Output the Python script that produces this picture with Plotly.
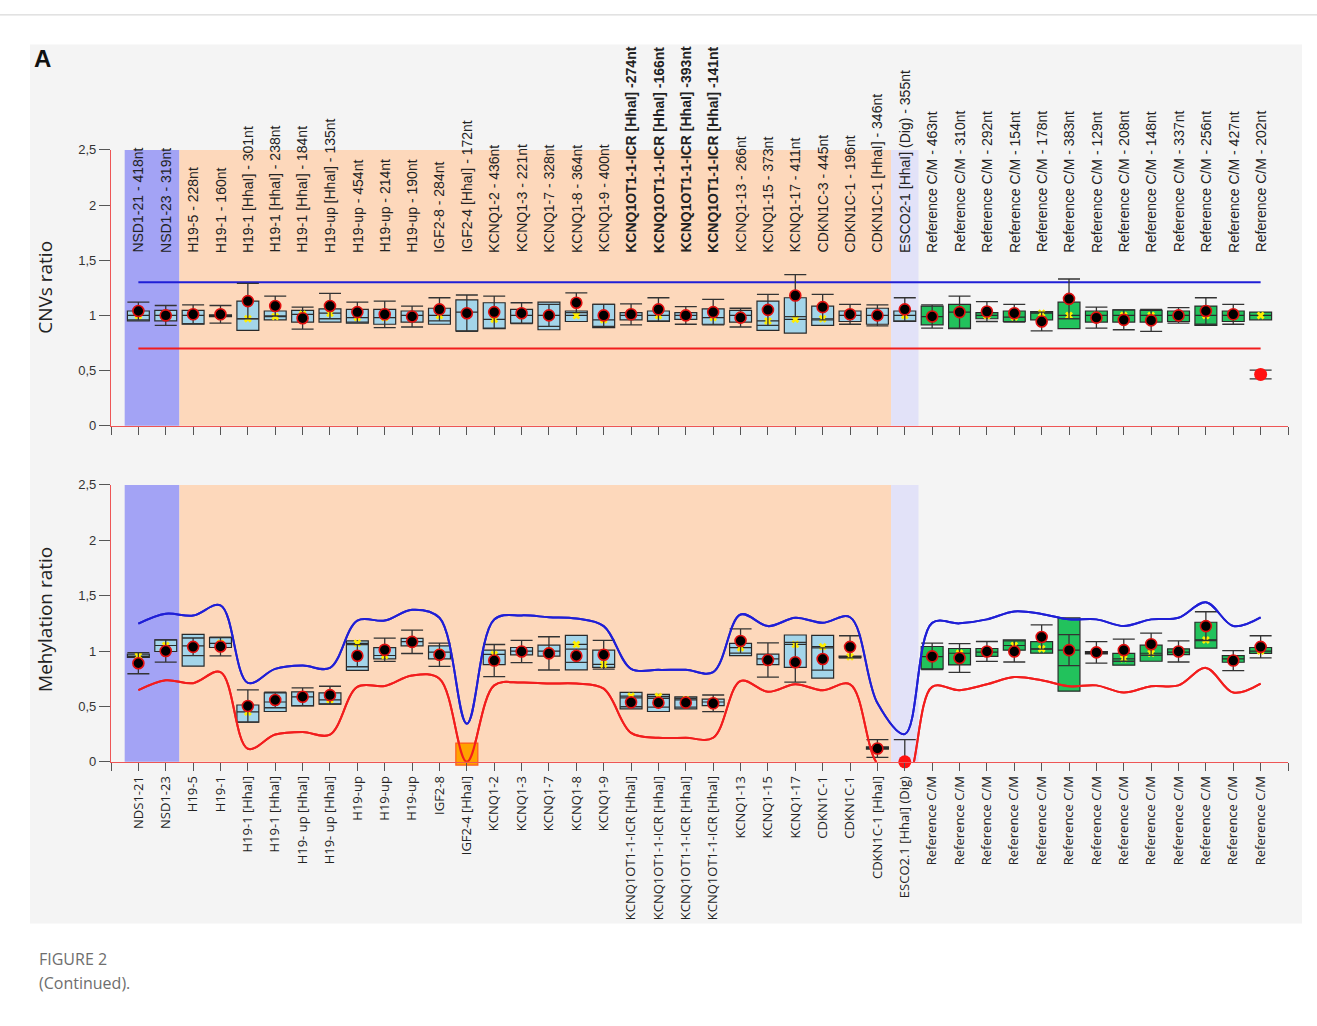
import plotly.graph_objects as go

# ---------------------------------------------------------------- data
PROBES_TOP = [
    "NSD1-21 - 418nt", "NSD1-23 - 319nt", "H19-5 - 228nt", "H19-1 - 160nt",
    "H19-1 [HhaI] - 301nt", "H19-1 [HhaI] - 238nt", "H19-1 [HhaI] - 184nt",
    "H19-up [HhaI] - 135nt", "H19-up - 454nt", "H19-up - 214nt", "H19-up - 190nt",
    "IGF2-8 - 284nt", "IGF2-4 [HhaI] - 172nt", "KCNQ1-2 - 436nt", "KCNQ1-3 - 221nt",
    "KCNQ1-7 - 328nt", "KCNQ1-8 - 364nt", "KCNQ1-9 - 400nt",
    "KCNQ1OT1-1-ICR [HhaI] -274nt", "KCNQ1OT1-1-ICR [HhaI] -166nt",
    "KCNQ1OT1-1-ICR [HhaI] -393nt", "KCNQ1OT1-1-ICR [HhaI] -141nt",
    "KCNQ1-13 - 266nt", "KCNQ1-15 - 373nt", "KCNQ1-17 - 411nt",
    "CDKN1C-3 - 445nt", "CDKN1C-1 - 196nt", "CDKN1C-1 [HhaI] - 346nt",
    "ESCO2-1 [HhaI] (Dig) - 355nt",
    "Reference C/M - 463nt", "Reference C/M - 310nt", "Reference C/M - 292nt",
    "Reference C/M - 154nt", "Reference C/M - 178nt", "Reference C/M - 383nt",
    "Reference C/M - 129nt", "Reference C/M - 208nt", "Reference C/M - 148nt",
    "Reference C/M - 337nt", "Reference C/M - 256nt", "Reference C/M - 427nt",
    "Reference C/M - 202nt",
]
BOLD_TOP = [18, 19, 20, 21]

PROBES_BOTTOM = [
    "NDS1-21", "NSD1-23", "H19-5", "H19-1", "H19-1 [HhaI]", "H19-1 [HhaI]",
    "H19- up [HhaI]", "H19- up [HhaI]", "H19-up", "H19-up", "H19-up", "IGF2-8",
    "IGF2-4 [HhaI]", "KCNQ1-2", "KCNQ1-3", "KCNQ1-7", "KCNQ1-8", "KCNQ1-9",
    "KCNQ1OT1-1-ICR [HhaI]", "KCNQ1OT1-1-ICR [HhaI]", "KCNQ1OT1-1-ICR [HhaI]",
    "KCNQ1OT1-1-ICR [HhaI]", "KCNQ1-13", "KCNQ1-15", "KCNQ1-17", "CDKN1C-1",
    "CDKN1C-1", "CDKN1C-1 [HhaI]", "ESCO2.1 [HhaI] (Dig)",
    "Reference C/M", "Reference C/M", "Reference C/M", "Reference C/M",
    "Reference C/M", "Reference C/M", "Reference C/M", "Reference C/M",
    "Reference C/M", "Reference C/M", "Reference C/M", "Reference C/M",
    "Reference C/M",
]

# probe group of every position: control, test, digestion control, reference
GROUPS = (["ctrl"] * 2 + ["test"] * 26 + ["dig"] + ["ref"] * 13)

# copy-number ratios (reference box: q1 / median / q3, sample value and its sd)
CNV_Q1 = [0.95, 0.95, 0.92, 0.99, 0.865, 0.96, 0.94, 0.94, 0.93, 0.92, 0.94, 0.92, 0.86, 0.88,
          0.93, 0.87, 0.945, 0.89, 0.96, 0.945, 0.965, 0.92, 0.94, 0.865, 0.84, 0.91, 0.945, 0.92,
          0.945, 0.915, 0.88, 0.97, 0.945, 0.96, 0.88, 0.94, 0.94, 0.94, 0.945, 0.91, 0.945, 0.96]
CNV_MED = [1.0, 1.0, 1.0, 1.0, 0.97, 0.99, 1.01, 1.02, 0.98, 0.98, 1.0, 1.0, 1.03, 0.965,
           1.0, 1.0, 1.0, 0.96, 1.0, 1.0, 1.0, 0.98, 1.0, 0.95, 0.965, 0.97, 1.0, 1.0,
           1.0, 0.99, 1.03, 1.0, 0.985, 1.02, 1.0, 1.0, 1.0, 1.0, 1.0, 1.0, 1.0, 1.0]
CNV_Q3 = [1.04, 1.045, 1.045, 1.005, 1.13, 1.04, 1.045, 1.06, 1.055, 1.055, 1.04, 1.065, 1.14, 1.115,
          1.055, 1.12, 1.04, 1.10, 1.025, 1.04, 1.025, 1.06, 1.045, 1.13, 1.16, 1.085, 1.04, 1.065,
          1.04, 1.085, 1.10, 1.025, 1.04, 1.035, 1.12, 1.04, 1.05, 1.045, 1.04, 1.085, 1.04, 1.03]
CNV_VAL = [1.04, 1.0, 1.01, 1.01, 1.13, 1.085, 0.975, 1.085, 1.03, 1.01, 0.99, 1.055, 1.02, 1.03,
           1.02, 1.0, 1.115, 1.0, 1.01, 1.055, 1.0, 1.03, 0.98, 1.05, 1.18, 1.075, 1.01, 1.0,
           1.055, 0.99, 1.03, 1.035, 1.02, 0.945, 1.15, 0.98, 0.96, 0.955, 1.0, 1.04, 1.01, 0.465]
CNV_ERR = [0.08, 0.09, 0.085, 0.08, 0.16, 0.09, 0.10, 0.115, 0.09, 0.12, 0.095, 0.105, 0.165, 0.145,
           0.095, 0.10, 0.09, 0.10, 0.095, 0.105, 0.08, 0.115, 0.085, 0.14, 0.19, 0.115, 0.09, 0.095,
           0.105, 0.105, 0.145, 0.09, 0.08, 0.085, 0.18, 0.095, 0.09, 0.10, 0.07, 0.12, 0.09, 0.04]
CNV_FLAGGED = [41]
CNV_UPPER = 1.3
CNV_LOWER = 0.7

# methylation ratios (None = no reference box drawn)
MET_Q1 = [0.943, 0.996, 0.863, 1.032, 0.359, 0.454, 0.505, 0.52, 0.825, 0.93, 1.047, 0.929, None, 0.878,
          0.966, 0.955, 0.83, 0.853, 0.478, 0.454, 0.478, 0.507, 0.958, 0.878, 0.853, 0.756, 0.94, 0.115,
          None, 0.839, 0.875, 0.952, 1.008, 0.981, 0.638, 0.975, 0.872, 0.908, 0.967, 1.026, 0.899, 0.979]
MET_MED = [0.955, 1.05, 1.047, 1.07, 0.45, 0.54, 0.587, 0.56, 1.07, 0.96, 1.085, 0.99, None, 0.97,
           1.0, 1.0, 1.06, 0.88, 0.593, 0.59, 0.56, 0.54, 1.03, 0.93, 1.06, 1.04, 0.949, 0.127,
           None, 0.95, 0.98, 0.99, 1.05, 1.02, 1.008, 0.985, 0.93, 0.98, 0.99, 1.10, 0.93, 1.0]
MET_Q3 = [0.972, 1.10, 1.15, 1.121, 0.513, 0.623, 0.632, 0.623, 1.092, 1.03, 1.115, 1.047, None, 1.008,
          1.032, 1.053, 1.142, 1.008, 0.626, 0.608, 0.587, 0.566, 1.07, 0.972, 1.145, 1.142, 0.955, 0.135,
          None, 1.041, 1.023, 1.023, 1.10, 1.085, 1.299, 0.995, 0.979, 1.053, 1.02, 1.26, 0.958, 1.032]
MET_VAL = [0.89, 1.0, 1.038, 1.041, 0.504, 0.558, 0.587, 0.602, 0.958, 1.011, 1.083, 0.967, None, 0.914,
           0.996, 0.979, 0.958, 0.967, 0.537, 0.534, 0.534, 0.528, 1.091, 0.919, 0.899, 0.928, 1.038, 0.12,
           0.0, 0.952, 0.937, 0.996, 0.996, 1.127, 1.008, 0.988, 1.008, 1.062, 0.996, 1.225, 0.914, 1.038]
MET_ERR = [0.095, 0.10, 0.08, 0.085, 0.145, 0.07, 0.08, 0.08, 0.10, 0.105, 0.105, 0.105, None, 0.145,
           0.10, 0.15, 0.06, 0.13, 0.04, 0.04, 0.04, 0.075, 0.11, 0.155, 0.18, 0.10, 0.10, 0.08,
           0.20, 0.12, 0.13, 0.09, 0.095, 0.11, 0.14, 0.097, 0.10, 0.10, 0.095, 0.13, 0.09, 0.10]
MET_FLAGGED = [28]
MET_OUT_OF_RANGE = {12: 0.07}   # probe shown with an orange square

MET_UPPER = [1.248, 1.337, 1.32, 1.412, 0.712, 0.839, 0.869, 0.848, 1.275, 1.275, 1.373, 1.30, 0.344,
             1.284, 1.322, 1.305, 1.293, 1.225, 0.839, 0.83, 0.83, 0.81, 1.33, 1.225, 1.30, 1.255,
             1.305, 0.53, 0.25, 1.254, 1.25, 1.286, 1.358, 1.335, 1.286, 1.286, 1.226, 1.286, 1.30,
             1.441, 1.226, 1.305]
MET_LOWER = [0.647, 0.736, 0.71, 0.81, 0.118, 0.246, 0.27, 0.246, 0.676, 0.685, 0.78, 0.75, 0.0,
             0.69, 0.715, 0.706, 0.706, 0.66, 0.261, 0.217, 0.217, 0.217, 0.73, 0.632, 0.70, 0.645,
             0.70, -0.02, -0.2, 0.676, 0.647, 0.70, 0.765, 0.736, 0.682, 0.69, 0.625, 0.682, 0.69,
             0.848, 0.625, 0.706]

Y_TICKS = [0, 0.5, 1, 1.5, 2, 2.5]

# ---------------------------------------------------------------- styling
W, H = 1317, 1026
REGION_COLORS = {"ctrl": "#a3a3f5", "test": "#fdd8bb", "dig": "#e2e2f8", "ref": "#d3d3d3"}
BOX_BLUE = "#a3d5ea"
BOX_GREEN = "#22c25c"
LINE_BLUE = "#1f1fd6"
LINE_RED = "#f21d1d"
AXIS_RED = "#ee5555"
TICK_GREY = "#555555"
N = len(PROBES_BOTTOM)
XS = list(range(N))


def fx(p):
    return p / W


def fy(p):
    return 1 - p / H


fig = go.Figure()


def add_panel(xa, ya, q1, med, q3, val, err, flagged, upper, lower, spline):
    # reference boxes (blue for test probes, green for reference probes)
    for color, keep in ((BOX_BLUE, lambda g: g != "ref"), (BOX_GREEN, lambda g: g == "ref")):
        idx = [i for i in XS if keep(GROUPS[i]) and q1[i] is not None]
        fig.add_trace(go.Box(
            x=idx, q1=[q1[i] for i in idx], median=[med[i] for i in idx],
            q3=[q3[i] for i in idx], lowerfence=[q1[i] for i in idx],
            upperfence=[q3[i] for i in idx], width=0.8, whiskerwidth=0,
            fillcolor=color, line=dict(color="#2a2a2a", width=1.2),
            xaxis=xa, yaxis=ya, showlegend=False, hoverinfo="skip"))
    # threshold lines
    shape = "spline" if spline else "linear"
    for ys, col in ((upper, LINE_BLUE), (lower, LINE_RED)):
        fig.add_trace(go.Scatter(
            x=XS if spline else [XS[0], XS[-1]], y=ys, mode="lines",
            line=dict(color=col, width=2, shape=shape, smoothing=1.0),
            xaxis=xa, yaxis=ya, showlegend=False, hoverinfo="skip"))
    # reference medians
    idx = [i for i in XS if med[i] is not None]
    fig.add_trace(go.Scatter(
        x=idx, y=[med[i] for i in idx], mode="markers",
        marker=dict(symbol="x", size=7, color="#ffee00", line=dict(width=0)),
        xaxis=xa, yaxis=ya, showlegend=False, hoverinfo="skip"))
    # sample error bars
    idx = [i for i in XS if val[i] is not None]
    fig.add_trace(go.Scatter(
        x=idx, y=[val[i] for i in idx], mode="markers",
        marker=dict(size=1, color="rgba(0,0,0,0)"),
        error_y=dict(type="data", array=[err[i] for i in idx], color="#333333",
                     thickness=1.3, width=11),
        xaxis=xa, yaxis=ya, showlegend=False, hoverinfo="skip"))
    # sample values
    ok = [i for i in idx if i not in flagged]
    fig.add_trace(go.Scatter(
        x=ok, y=[val[i] for i in ok], mode="markers", cliponaxis=False,
        marker=dict(size=11, color="#000000", line=dict(color="#e01010", width=1.6)),
        xaxis=xa, yaxis=ya, showlegend=False, hoverinfo="skip"))
    bad = [i for i in idx if i in flagged]
    fig.add_trace(go.Scatter(
        x=bad, y=[val[i] for i in bad], mode="markers", cliponaxis=False,
        marker=dict(size=13, color="#ff1111", line=dict(width=0)),
        xaxis=xa, yaxis=ya, showlegend=False, hoverinfo="skip"))


add_panel("x", "y", CNV_Q1, CNV_MED, CNV_Q3, CNV_VAL, CNV_ERR, CNV_FLAGGED,
          [CNV_UPPER, CNV_UPPER], [CNV_LOWER, CNV_LOWER], spline=False)
add_panel("x2", "y2", MET_Q1, MET_MED, MET_Q3, MET_VAL, MET_ERR, MET_FLAGGED,
          MET_UPPER, MET_LOWER, spline=True)

# out-of-range methylation probe
fig.add_trace(go.Scatter(
    x=list(MET_OUT_OF_RANGE.keys()), y=list(MET_OUT_OF_RANGE.values()),
    mode="markers", cliponaxis=False,
    marker=dict(symbol="square", size=22, color="#ffa200", line=dict(color="#ff5a1a", width=1.2)),
    xaxis="x2", yaxis="y2", showlegend=False, hoverinfo="skip"))
# redraw the methylation threshold curves on top of the square
for ys, col in ((MET_UPPER, LINE_BLUE), (MET_LOWER, LINE_RED)):
    fig.add_trace(go.Scatter(x=XS, y=ys, mode="lines",
                             line=dict(color=col, width=2, shape="spline", smoothing=1.0),
                             xaxis="x2", yaxis="y2", showlegend=False, hoverinfo="skip"))

# ---------------------------------------------------------------- shapes
shapes = [
    dict(type="rect", xref="paper", yref="paper", x0=fx(30), x1=fx(1302), y0=fy(930), y1=fy(38),
         fillcolor="#f4f4f4", line=dict(width=0), layer="below"),
    dict(type="line", xref="paper", yref="paper", x0=0, x1=1, y0=fy(8), y1=fy(8),
         line=dict(color="#d0d0d0", width=1), layer="below"),
]
for xr, yr in (("x", "y domain"), ("x2", "y2 domain")):
    for grp in ("ctrl", "test", "dig"):
        members = [i for i in XS if GROUPS[i] == grp]
        shapes.append(dict(type="rect", xref=xr, yref=yr, x0=min(members) - 0.5,
                           x1=max(members) + 0.5, y0=0, y1=1,
                           fillcolor=REGION_COLORS[grp], line=dict(width=0), layer="below"))

# ---------------------------------------------------------------- annotations
annotations = []
for i, lab in enumerate(PROBES_TOP):
    txt = f"<b>{lab}</b>" if i in BOLD_TOP else lab
    annotations.append(dict(x=i, y=1.55, xref="x", yref="y", text=txt, textangle=-90,
                            showarrow=False, xanchor="center", yanchor="bottom",
                            font=dict(family="Liberation Sans, Arial", size=14, color="#222222")))
annotations += [
    dict(x=fx(45), y=fy(285), xref="paper", yref="paper", text="CNVs ratio", textangle=-90,
         showarrow=False, xanchor="center", yanchor="middle",
         font=dict(family="Open Sans", size=19, color="#222222")),
    dict(x=fx(45), y=fy(622), xref="paper", yref="paper", text="Mehylation ratio", textangle=-90,
         showarrow=False, xanchor="center", yanchor="middle",
         font=dict(family="Open Sans", size=19, color="#222222")),
    dict(x=fx(42), y=fy(52), xref="paper", yref="paper", text="<b>A</b>", showarrow=False,
         xanchor="center", yanchor="middle",
         font=dict(family="Liberation Sans, Arial", size=24, color="#111111")),
    dict(x=fx(37), y=fy(966), xref="paper", yref="paper", text="FIGURE 2", showarrow=False,
         xanchor="left", yanchor="middle",
         font=dict(family="Open Sans", size=16, color="#6e6e6e")),
    dict(x=fx(37), y=fy(990), xref="paper", yref="paper", text="(Continued).", showarrow=False,
         xanchor="left", yanchor="middle",
         font=dict(family="Open Sans", size=16, color="#6e6e6e")),
]

# ---------------------------------------------------------------- axes
x_ticks = list(range(-1, N + 1))
x_common = dict(range=[-1, N], domain=[fx(111), fx(1288)], tickmode="array", tickvals=x_ticks,
                ticks="outside", ticklen=8, tickwidth=1.2, tickcolor=TICK_GREY,
                showline=True, linecolor=AXIS_RED, linewidth=1.2, showgrid=False,
                zeroline=False, fixedrange=True)
y_common = dict(range=[0, 2.5], tickmode="array", tickvals=Y_TICKS, ticks="outside",
                ticklen=11, tickwidth=1.2, tickcolor=TICK_GREY, showline=True,
                linecolor=AXIS_RED, linewidth=1.2, showgrid=False, zeroline=False,
                tickfont=dict(family="Liberation Sans, Arial", size=13, color="#333333"))

fig.update_layout(
    width=W, height=H, margin=dict(l=0, r=0, t=0, b=0),
    paper_bgcolor="#ffffff", plot_bgcolor=REGION_COLORS["ref"],
    separators=", ", boxmode="overlay", showlegend=False,
    xaxis=dict(**x_common, anchor="y", showticklabels=False),
    xaxis2=dict(**x_common, anchor="y2", ticktext=[""] + PROBES_BOTTOM + [""],
                tickangle=-90,
                tickfont=dict(family="Open Sans", size=13, color="#222222")),
    yaxis=dict(**y_common, domain=[fy(425), fy(145)], anchor="x"),
    yaxis2=dict(**y_common, domain=[fy(766), fy(485)], anchor="x2"),
    shapes=shapes, annotations=annotations,
)

fig.write_html("out.html")
